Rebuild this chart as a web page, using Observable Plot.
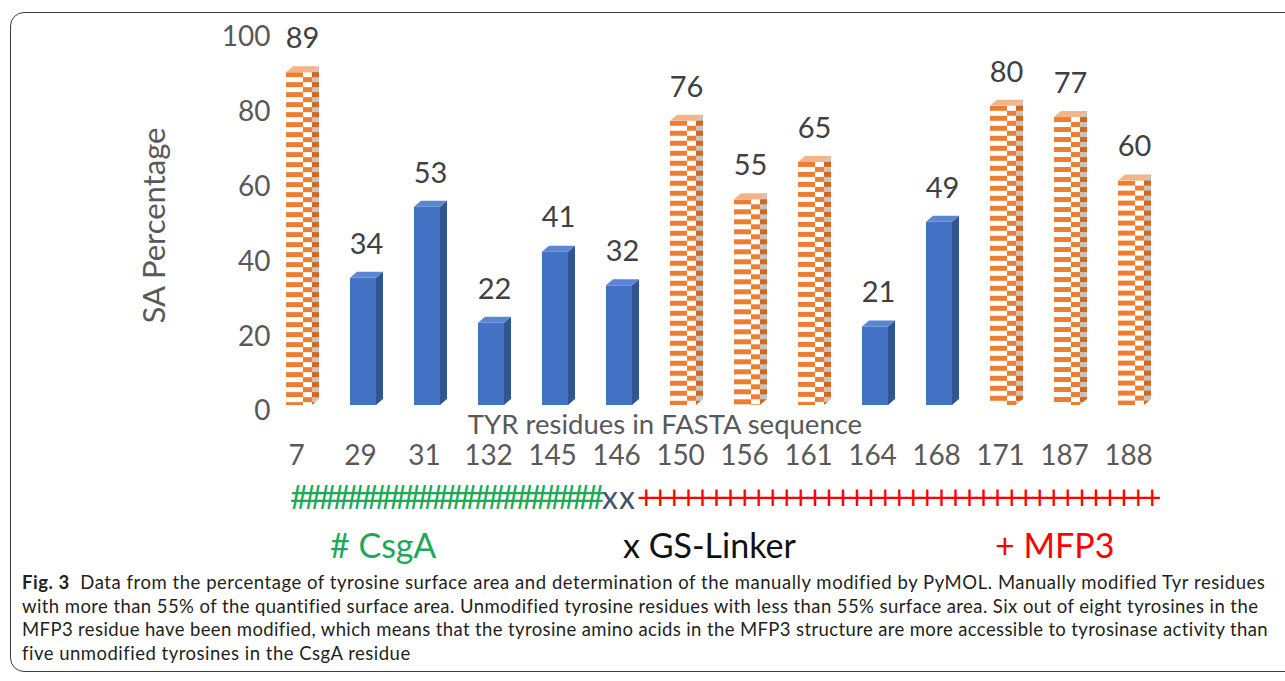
<!DOCTYPE html>
<html>
<head>
<meta charset="utf-8">
<script src="https://cdn.jsdelivr.net/npm/d3@7"></script>
<script src="https://cdn.jsdelivr.net/npm/@observablehq/plot@0.6"></script>
<style>
  html, body { margin: 0; padding: 0; background: #fff; }
  body { width: 1285px; height: 681px; position: relative; overflow: hidden; font-family: Lato, sans-serif; }
  #frame { position: absolute; left: 10px; top: 12px; width: 1310px; height: 660px; border: 1.5px solid #3c3c3c; border-radius: 14px; box-sizing: border-box; }
  #chart { position: absolute; left: 0; top: 0; }
  .strip { position: absolute; top: 480px; font-size: 32px; line-height: 34px; white-space: nowrap; }
  .legend { position: absolute; top: 526px; font-size: 34px; line-height: 38px; white-space: nowrap; }
  #caption { position: absolute; left: 22px; top: 571px; font-size: 18.5px; line-height: 23.5px; color: #231f20; }
  #caption div { white-space: nowrap; display: inline-block; }
</style>
</head>
<body>
<div id="frame"></div>
<div id="chart"></div>

<span class="strip" id="seqCsgA" style="left:290px;color:#1fa855"></span>
<span class="strip" id="seqLinker" style="left:602px;color:#44546a"></span>
<span class="strip" id="seqMFP3" style="left:637px;color:#ff0000"></span>

<span class="legend" style="left:330px;color:#1fa855"># CsgA</span>
<span class="legend" style="left:623px;color:#111">x GS-Linker</span>
<span class="legend" style="left:995px;color:#ff0000">+ MFP3</span>

<div id="caption">
  <div id="cap1"><b>Fig. 3</b>&nbsp; Data from the percentage of tyrosine surface area and determination of the manually modified by PyMOL. Manually modified Tyr residues</div><br>
  <div id="cap2">with more than 55% of the quantified surface area. Unmodified tyrosine residues with less than 55% surface area. Six out of eight tyrosines in the</div><br>
  <div id="cap3">MFP3 residue have been modified, which means that the tyrosine amino acids in the MFP3 structure are more accessible to tyrosinase activity than</div><br>
  <div id="cap4">five unmodified tyrosines in the CsgA residue</div>
</div>

<script>
// Tyrosine residue positions in the FASTA sequence
const residues = ["7", "29", "31", "132", "145", "146", "150", "156", "161", "164", "168", "171", "187", "188"];
// Solvent-accessible surface area (%) per residue
const saPercent = [89, 34, 53, 22, 41, 32, 76, 55, 65, 21, 49, 80, 77, 60];
// Whether the residue was modified in PyMOL
const modified = [true, false, false, false, false, false, true, true, true, false, false, true, true, true];
// Y axis ticks
const yTicks = [0, 20, 40, 60, 80, 100];

// Domain segments written under the axis
const csgaMarks = 22, linkerMarks = 2, mfp3Marks = 37;

const rows = residues.map((r, i) => ({residue: r, sa: saPercent[i], modified: modified[i]}));

const DX = 7, DY = 6;      // depth offset of the 3D columns
const CW = 17, CH = 5;     // checker cell size

// Draws the side and top faces of each column and fills the front faces.
function columns3d(index, scales, values, dims, ctx, next) {
  const g = next(index, scales, values, dims, ctx);
  const sx = scales.x;
  const bw = typeof sx.bandwidth === "function" ? sx.bandwidth() : scales.scales.x.bandwidth;
  const X = values.x, Y1 = values.y1, Y2 = values.y2;
  const sel = d3.select(g);
  const defs = sel.insert("defs", ":first-child");
  const rects = sel.selectAll("rect").nodes();
  const faces = sel.append("g");
  index.forEach((i, j) => {
    const x0 = X[i], x1 = x0 + bw;
    const top = Math.min(Y1[i], Y2[i]), bot = Math.max(Y1[i], Y2[i]);
    let front, side, lid;
    if (rows[i].modified) {
      const pf = defs.append("pattern").attr("id", `chkf${i}`).attr("patternUnits", "userSpaceOnUse")
        .attr("x", x0).attr("y", top).attr("width", 2 * CW).attr("height", 2 * CH);
      pf.append("rect").attr("width", 2 * CW).attr("height", 2 * CH).attr("fill", "#ffffff");
      pf.append("rect").attr("width", CW).attr("height", CH).attr("fill", "#ed7d31");
      pf.append("rect").attr("x", CW).attr("y", CH).attr("width", CW).attr("height", CH).attr("fill", "#ed7d31");
      const ps = defs.append("pattern").attr("id", `chks${i}`).attr("patternUnits", "userSpaceOnUse")
        .attr("x", x1).attr("y", top).attr("width", 2 * CW).attr("height", 2 * CH);
      ps.append("rect").attr("width", 2 * CW).attr("height", 2 * CH).attr("fill", "#c9c4c0");
      ps.append("rect").attr("width", 2 * CW).attr("height", CH).attr("fill", "#d6661c");
      front = `url(#chkf${i})`; side = `url(#chks${i})`; lid = "#f2b489";
    } else {
      front = "#4472c4"; side = "#2f5597"; lid = "#5b86d3";
    }
    rects[j].setAttribute("fill", front);
    faces.append("path").attr("fill", side)
      .attr("d", `M${x1},${top}L${x1 + DX},${top - DY}L${x1 + DX},${bot - DY}L${x1},${bot}Z`);
    faces.append("path").attr("fill", lid)
      .attr("d", `M${x0},${top}L${x0 + DX},${top - DY}L${x1 + DX},${top - DY}L${x1},${top}Z`);
  });
  return g;
}

const chart = Plot.plot({
  width: 1285,
  height: 480,
  marginTop: 31,
  marginBottom: 75,
  marginLeft: 241,
  marginRight: 97,
  style: {fontFamily: "Lato, sans-serif", background: "transparent", overflow: "visible"},
  x: {domain: residues, padding: 0.6},
  y: {domain: [0, 100]},
  marks: [
    Plot.axisY({ticks: yTicks, tickSize: 0, tickPadding: -29, dy: 6, fontSize: 28, color: "#595959", label: null}),
    Plot.axisX({tickSize: 0, tickPadding: 40, dx: -3, fontSize: 28, color: "#595959", label: null}),
    Plot.barY(rows, {x: "residue", y: "sa", render: columns3d}),
    Plot.text(rows, {x: "residue", y: "sa", text: d => String(d.sa), dx: 3, dy: -34, lineAnchor: "middle", fontSize: 29, fill: "#404040"}),
    Plot.text(["SA Percentage"], {frameAnchor: "left", textAnchor: "middle", rotate: -90, dx: -86, dy: 7, fontSize: 31, fill: "#595959"}),
    Plot.text(["TYR residues in FASTA sequence"], {frameAnchor: "bottom", dx: 665 - 715, dy: 20, lineAnchor: "middle", fontSize: 27.5, fill: "#595959"})
  ]
});
document.getElementById("chart").append(chart);

// Sequence strip under the axis
document.getElementById("seqCsgA").textContent = "#".repeat(csgaMarks);
document.getElementById("seqLinker").textContent = "x".repeat(linkerMarks);
document.getElementById("seqMFP3").textContent = "+".repeat(mfp3Marks);

// Stretch a text run to a given width using letter spacing
function fit(id, target) {
  const el = document.getElementById(id);
  const n = el.textContent.length;
  el.style.letterSpacing = "0px";
  const w = el.getBoundingClientRect().width;
  el.style.letterSpacing = ((target - w) / n) + "px";
}
fit("seqCsgA", 310);
fit("seqLinker", 34);
fit("seqMFP3", 520);
fit("cap1", 1243);
fit("cap2", 1236);
fit("cap3", 1246);
fit("cap4", 388);
</script>
</body>
</html>
